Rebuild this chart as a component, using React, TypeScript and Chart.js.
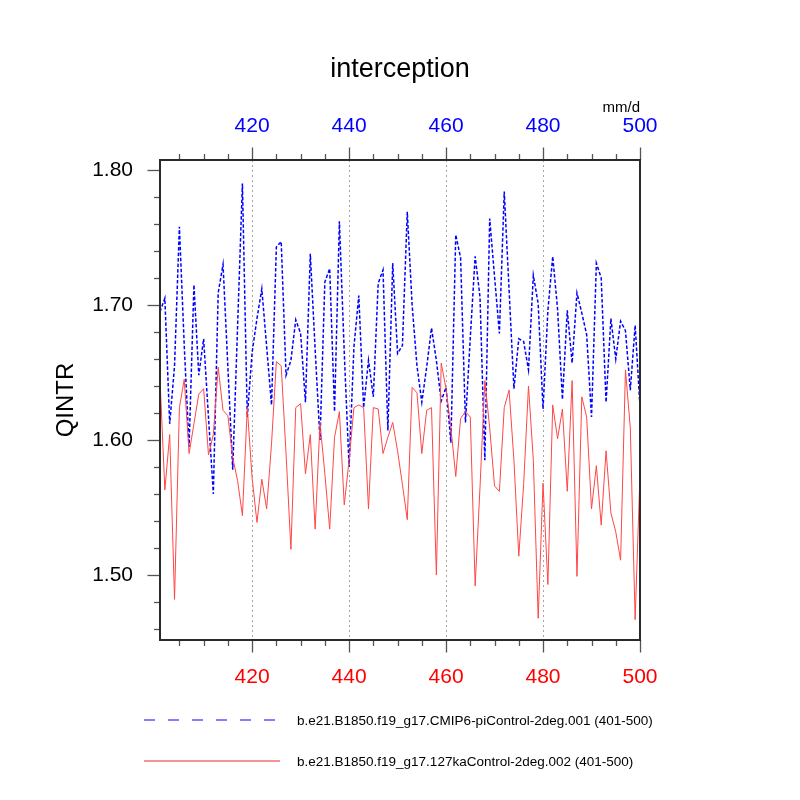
import React, { useEffect, useRef } from "react";
import { Chart, registerables } from "chart.js";

Chart.register(...registerables);

const FONT = "'Liberation Sans', Arial, Helvetica, sans-serif";

const titleText = "interception";
const yAxisTitle = "QINTR";
const unitsText = "mm/d";

const blueLabel = "b.e21.B1850.f19_g17.CMIP6-piControl-2deg.001 (401-500)";
const redLabel = "b.e21.B1850.f19_g17.127kaControl-2deg.002 (401-500)";

const years = [
  401, 402, 403, 404, 405, 406, 407, 408, 409, 410,
  411, 412, 413, 414, 415, 416, 417, 418, 419, 420,
  421, 422, 423, 424, 425, 426, 427, 428, 429, 430,
  431, 432, 433, 434, 435, 436, 437, 438, 439, 440,
  441, 442, 443, 444, 445, 446, 447, 448, 449, 450,
  451, 452, 453, 454, 455, 456, 457, 458, 459, 460,
  461, 462, 463, 464, 465, 466, 467, 468, 469, 470,
  471, 472, 473, 474, 475, 476, 477, 478, 479, 480,
  481, 482, 483, 484, 485, 486, 487, 488, 489, 490,
  491, 492, 493, 494, 495, 496, 497, 498, 499, 500,
];

const blueValues = [
  1.695, 1.705, 1.612, 1.655, 1.758, 1.670, 1.595, 1.715, 1.648, 1.675,
  1.617, 1.560, 1.709, 1.730, 1.654, 1.578, 1.684, 1.790, 1.617, 1.665,
  1.690, 1.712, 1.669, 1.626, 1.743, 1.747, 1.648, 1.659, 1.689, 1.679,
  1.628, 1.738, 1.667, 1.600, 1.717, 1.727, 1.621, 1.762, 1.665, 1.580,
  1.669, 1.707, 1.624, 1.659, 1.632, 1.716, 1.726, 1.607, 1.731, 1.664,
  1.670, 1.769, 1.700, 1.655, 1.628, 1.654, 1.683, 1.659, 1.629, 1.639,
  1.598, 1.752, 1.735, 1.613, 1.676, 1.736, 1.706, 1.585, 1.764, 1.721,
  1.679, 1.784, 1.711, 1.638, 1.675, 1.673, 1.652, 1.722, 1.701, 1.623,
  1.696, 1.736, 1.697, 1.630, 1.696, 1.657, 1.709, 1.694, 1.678, 1.617,
  1.731, 1.720, 1.628, 1.690, 1.660, 1.688, 1.681, 1.637, 1.685, 1.624,
];

const redValues = [
  1.645, 1.563, 1.604, 1.482, 1.624, 1.645, 1.590, 1.612, 1.634, 1.638,
  1.589, 1.604, 1.654, 1.622, 1.618, 1.587, 1.570, 1.544, 1.624, 1.572,
  1.539, 1.571, 1.549, 1.597, 1.658, 1.655, 1.590, 1.519, 1.624, 1.627,
  1.575, 1.604, 1.534, 1.613, 1.575, 1.534, 1.602, 1.621, 1.552, 1.585,
  1.624, 1.626, 1.624, 1.549, 1.624, 1.623, 1.590, 1.602, 1.613, 1.592,
  1.567, 1.541, 1.639, 1.635, 1.590, 1.622, 1.624, 1.500, 1.657, 1.638,
  1.609, 1.573, 1.616, 1.621, 1.617, 1.492, 1.565, 1.644, 1.609, 1.566,
  1.562, 1.624, 1.637, 1.585, 1.514, 1.567, 1.640, 1.585, 1.468, 1.568,
  1.493, 1.626, 1.601, 1.623, 1.562, 1.644, 1.499, 1.632, 1.617, 1.549,
  1.581, 1.537, 1.592, 1.546, 1.532, 1.511, 1.652, 1.609, 1.467, 1.575,
];

const xMajorTicks = [420, 440, 460, 480, 500];
const xMinorTicks = [405, 410, 415, 425, 430, 435, 445, 450, 455, 465, 470, 475, 485, 490, 495];
const xGridLines = [420, 440, 460, 480];
const yMajorTicks = [1.5, 1.6, 1.7, 1.8];
const yMinorTicks = [1.46, 1.48, 1.52, 1.54, 1.56, 1.58, 1.62, 1.64, 1.66, 1.68, 1.72, 1.74, 1.76, 1.78];

const X_MIN = 401;
const X_MAX = 500;
const Y_MIN = 1.4519;
const Y_MAX = 1.8074;

const BLUE = "#0000ff";
const RED = "#ff4646";
const seriesColors = [BLUE, RED];
const legendColors = ["#5a5aff", "#f07070"];

const framePlugin = {
  id: "nclFrame",
  beforeDatasetsDraw(chart: any) {
    const { ctx, chartArea } = chart;
    const xs = chart.scales.x;
    ctx.save();
    ctx.strokeStyle = "rgba(0,0,0,0.35)";
    ctx.lineWidth = 1;
    ctx.setLineDash([2, 3]);
    for (const v of xGridLines) {
      const px = Math.round(xs.getPixelForValue(v)) + 0.5;
      ctx.beginPath();
      ctx.moveTo(px, chartArea.top);
      ctx.lineTo(px, chartArea.bottom);
      ctx.stroke();
    }
    ctx.restore();
  },
  afterDatasetsDraw(chart: any) {
    const { ctx, chartArea } = chart;
    const xs = chart.scales.x;
    const ys = chart.scales.y;
    const { left, right, top, bottom } = chartArea;
    ctx.save();
    ctx.setLineDash([]);
    ctx.strokeStyle = "#555";
    ctx.lineWidth = 1.3;
    const major = 12.5;
    const minor = 6;
    const drawX = (v: number, len: number) => {
      const px = Math.round(xs.getPixelForValue(v)) + 0.5;
      ctx.beginPath();
      ctx.moveTo(px, bottom);
      ctx.lineTo(px, bottom + len);
      ctx.moveTo(px, top);
      ctx.lineTo(px, top - len);
      ctx.stroke();
    };
    xMajorTicks.forEach((v) => drawX(v, major));
    xMinorTicks.forEach((v) => drawX(v, minor));
    const drawY = (v: number, len: number) => {
      const py = Math.round(ys.getPixelForValue(v)) + 0.5;
      ctx.beginPath();
      ctx.moveTo(left, py);
      ctx.lineTo(left - len, py);
      ctx.stroke();
    };
    yMajorTicks.forEach((v) => drawY(v, major));
    yMinorTicks.forEach((v) => drawY(v, minor));
    ctx.strokeStyle = "#2a2a2a";
    ctx.lineWidth = 2;
    ctx.strokeRect(left, top, right - left, bottom - top);
    ctx.restore();
  },
  afterDraw(chart: any) {
    const { ctx, chartArea } = chart;
    const { left, right, top, bottom } = chartArea;
    const midX = (left + right) / 2;
    ctx.save();
    ctx.fillStyle = "#000";
    ctx.font = `27px ${FONT}`;
    ctx.textAlign = "center";
    ctx.textBaseline = "alphabetic";
    ctx.fillText(titleText, midX, 77);
    ctx.font = `15px ${FONT}`;
    ctx.textAlign = "right";
    ctx.fillText(unitsText, right, 112);
    ctx.save();
    ctx.translate(73, (top + bottom) / 2);
    ctx.rotate(-Math.PI / 2);
    ctx.font = `24px ${FONT}`;
    ctx.textAlign = "center";
    ctx.textBaseline = "alphabetic";
    ctx.fillText(yAxisTitle, 0, 0);
    ctx.restore();
    const legendY = [720, 761];
    const legendDash = [[11, 13], []];
    const legendEnd = [275, 280];
    chart.data.datasets.forEach((ds: any, i: number) => {
      ctx.save();
      ctx.strokeStyle = legendColors[i];
      ctx.lineWidth = 1.4;
      ctx.setLineDash(legendDash[i]);
      ctx.beginPath();
      ctx.moveTo(144, legendY[i]);
      ctx.lineTo(legendEnd[i], legendY[i]);
      ctx.stroke();
      ctx.restore();
      ctx.fillStyle = "#000";
      ctx.font = `13.5px ${FONT}`;
      ctx.textAlign = "left";
      ctx.textBaseline = "middle";
      ctx.fillText(ds.label, 297, legendY[i] + 1);
    });
    ctx.restore();
  },
};

export default function App() {
  const canvasRef = useRef<HTMLCanvasElement | null>(null);

  useEffect(() => {
    const canvas = canvasRef.current;
    if (!canvas) return;
    Chart.defaults.font.family = FONT;

    const tickFont = { family: FONT, size: 21 };

    const chart = new Chart(canvas, {
      type: "line",
      data: {
        datasets: [
          {
            label: blueLabel,
            data: years.map((x, i) => ({ x, y: blueValues[i] })),
            borderColor: seriesColors[0],
            borderWidth: 1.5,
            borderDash: [3.5, 2],
            pointRadius: 0,
            tension: 0,
            fill: false,
            xAxisID: "x",
            yAxisID: "y",
            order: 1,
          },
          {
            label: redLabel,
            data: years.map((x, i) => ({ x, y: redValues[i] })),
            borderColor: seriesColors[1],
            borderWidth: 1,
            pointRadius: 0,
            tension: 0,
            fill: false,
            xAxisID: "x",
            yAxisID: "y",
            order: 0,
          },
        ],
      },
      options: {
        animation: false,
        responsive: false,
        maintainAspectRatio: false,
        layout: { padding: { left: 0, right: 160, top: 0, bottom: 0 } },
        plugins: {
          legend: { display: false },
          title: { display: false },
          tooltip: { enabled: false },
        },
        scales: {
          x: {
            type: "linear",
            position: "bottom",
            min: X_MIN,
            max: X_MAX,
            afterBuildTicks: (s: any) => {
              s.ticks = xMajorTicks.map((v) => ({ value: v }));
            },
            afterFit: (s: any) => {
              s.height = 160;
            },
            grid: { display: false, drawTicks: false },
            border: { display: false },
            ticks: {
              color: "#ff0000",
              font: tickFont,
              padding: 25,
              maxRotation: 0,
              autoSkip: false,
              callback: (v: any) => String(v),
            },
          },
          x2: {
            type: "linear",
            position: "top",
            min: X_MIN,
            max: X_MAX,
            afterBuildTicks: (s: any) => {
              s.ticks = xMajorTicks.map((v) => ({ value: v }));
            },
            afterFit: (s: any) => {
              s.height = 160;
            },
            grid: { display: false, drawTicks: false },
            border: { display: false },
            ticks: {
              color: "#0000ff",
              font: tickFont,
              padding: 21,
              maxRotation: 0,
              autoSkip: false,
              callback: (v: any) => String(v),
            },
          },
          y: {
            type: "linear",
            position: "left",
            min: Y_MIN,
            max: Y_MAX,
            afterBuildTicks: (s: any) => {
              s.ticks = yMajorTicks.map((v) => ({ value: v }));
            },
            afterFit: (s: any) => {
              s.width = 160;
            },
            grid: { display: false, drawTicks: false },
            border: { display: false },
            ticks: {
              color: "#000",
              font: tickFont,
              padding: 27,
              autoSkip: false,
              callback: (v: any) => Number(v).toFixed(2),
            },
          },
        },
      },
      plugins: [framePlugin],
    } as any);

    return () => {
      chart.destroy();
    };
  }, []);

  return (
    <div style={{ position: "absolute", left: 0, top: 0, width: 800, height: 800, background: "#fff" }}>
      <canvas ref={canvasRef} width={800} height={800} style={{ width: 800, height: 800, display: "block" }} />
    </div>
  );
}
